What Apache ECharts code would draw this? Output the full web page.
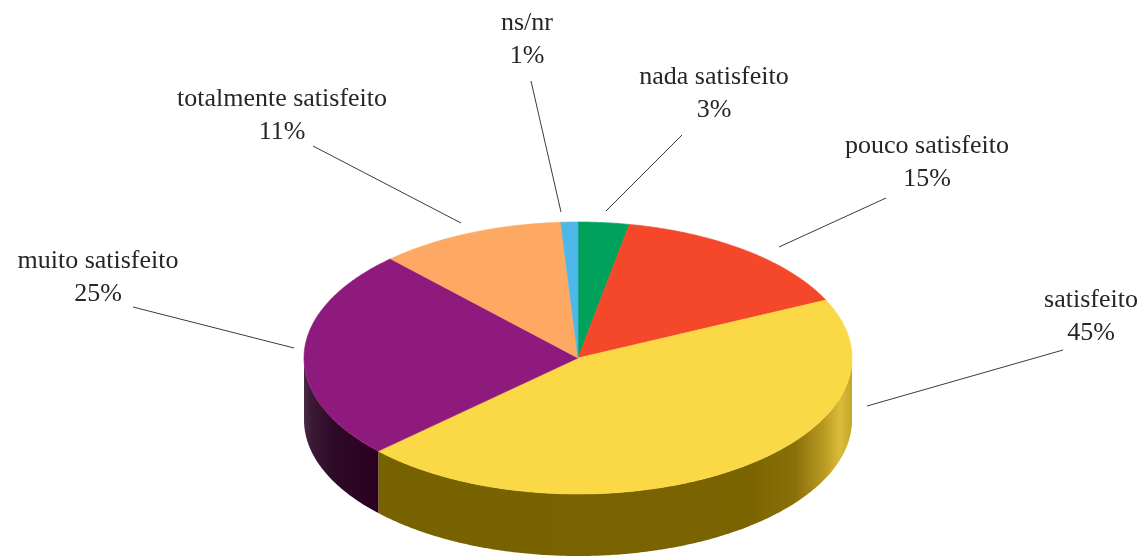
<!DOCTYPE html>
<html>
<head>
<meta charset="utf-8">
<script src="https://cdn.jsdelivr.net/npm/echarts@6/dist/echarts.min.js"></script>
<style>
html,body{margin:0;padding:0;background:#fff;}
#chart{width:1143px;height:557px;}
</style>
</head>
<body>
<div id="chart"></div>
<script>
// dados
var categorias = ['nada satisfeito', 'pouco satisfeito', 'satisfeito', 'muito satisfeito', 'totalmente satisfeito', 'ns/nr'];
var valores = [3, 15, 45, 25, 11, 1];

// estilo
var cores = ['#00a25b', '#f5472a', '#fbd845', '#8f1a7d', '#fda963', '#4db7ea'];
var coresLado = [
	null, null,
	[[0, '#776200'], [0.78, '#7a6400'], [0.88, '#8a7008'], [0.94, '#b89a22'], [0.975, '#dcbc38'], [1, '#c4a62a']],
	[[0, '#4a2c46'], [0.1, '#3a1a35'], [0.4, '#2e0a28'], [1, '#2a0020']],
	null, null
];
// posição dos rótulos: centro do texto e linha de chamada
var rotuloPos = [
	{t: [714, 94], l: [[682, 135], [606, 211]]},
	{t: [927, 163], l: [[886, 198], [779, 247]]},
	{t: [1091, 317], l: [[1063, 350], [867, 406]]},
	{t: [98, 278], l: [[133, 307], [294, 348]]},
	{t: [282, 116], l: [[313, 146], [461, 223]]},
	{t: [527, 40], l: [[531, 81], [561, 212]]}
];

var cx = 578, cy = 358, rx = 274, ry = 136, prof = 62;

var total = 0;
for (var i = 0; i < valores.length; i++) total += valores[i];
var dados = [];
var acum = 0;
for (var i = 0; i < valores.length; i++) {
	dados.push([acum, acum + valores[i], valores[i]]);
	acum += valores[i];
}

function pt(a, dy) {
	return [cx + rx * Math.sin(a), cy - ry * Math.cos(a) + (dy || 0)];
}

function arco(a0, a1, dy) {
	var pts = [];
	var n = Math.max(2, Math.ceil(Math.abs(a1 - a0) / 0.01));
	for (var k = 0; k <= n; k++) {
		pts.push(pt(a0 + (a1 - a0) * k / n, dy));
	}
	return pts;
}

function renderItem(params, api) {
	var i = params.dataIndex;
	var a0 = api.value(0) / total * Math.PI * 2;
	var a1 = api.value(1) / total * Math.PI * 2;
	var filhos = [];

	// lateral (só a metade da frente é visível)
	var w0 = Math.max(a0, Math.PI / 2), w1 = Math.min(a1, Math.PI * 1.5);
	if (w1 > w0) {
		var ptsLado = arco(w0, w1, 0).concat(arco(w1, w0, prof));
		var stops = coresLado[i] || [[0, cores[i]], [1, cores[i]]];
		var xs = ptsLado.map(function (p) { return p[0]; });
		var gx0 = Math.min.apply(null, xs), gx1 = Math.max.apply(null, xs);
		filhos.push({
			type: 'polygon',
			shape: {points: ptsLado},
			style: {
				fill: new echarts.graphic.LinearGradient(gx0, 0, gx1, 0,
					stops.map(function (s) { return {offset: s[0], color: s[1]}; }), true),
				stroke: null
			}
		});
	}

	// topo
	var ptsTopo = [[cx, cy]].concat(arco(a0, a1, 0));
	filhos.push({
		type: 'polygon',
		shape: {points: ptsTopo},
		style: {fill: cores[i], stroke: cores[i], lineWidth: 0.6}
	});

	// linha de chamada e rótulo
	var r = rotuloPos[i];
	filhos.push({
		type: 'line',
		shape: {x1: r.l[0][0], y1: r.l[0][1], x2: r.l[1][0], y2: r.l[1][1]},
		style: {stroke: '#3a3a3a', lineWidth: 1}
	});
	filhos.push({
		type: 'text',
		style: {
			text: categorias[i] + '\n' + api.value(2) + '%',
			x: r.t[0], y: r.t[1],
			align: 'center', verticalAlign: 'middle',
			fontFamily: 'Liberation Serif', fontSize: 26, lineHeight: 33,
			fill: '#262626'
		}
	});
	return {type: 'group', children: filhos};
}

var myChart = echarts.init(document.getElementById('chart'));
var option = {
	animation: false,
	series: [{
		type: 'custom',
		coordinateSystem: 'none',
		renderItem: renderItem,
		data: dados
	}]
};
myChart.setOption(option);
</script>
</body>
</html>
